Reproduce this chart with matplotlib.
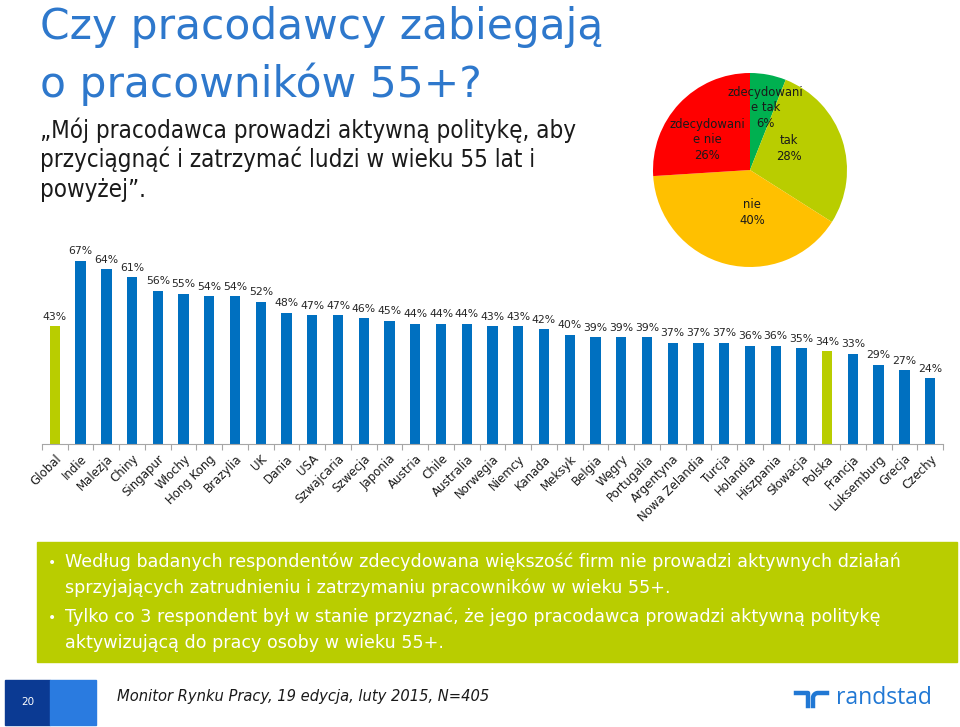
import matplotlib
matplotlib.use("Agg")
import matplotlib.pyplot as plt
from matplotlib.patches import Rectangle
import numpy as np

# data
countries = ["Global", "Indie", "Malezja", "Chiny", "Singapur", "Włochy", "Hong Kong",
             "Brazylia", "UK", "Dania", "USA", "Szwajcaria", "Szwecja", "Japonia",
             "Austria", "Chile", "Australia", "Norwegia", "Niemcy", "Kanada", "Meksyk",
             "Belgia", "Węgry", "Portugalia", "Argentyna", "Nowa Zelandia", "Turcja",
             "Holandia", "Hiszpania", "Słowacja", "Polska", "Francja", "Luksemburg",
             "Grecja", "Czechy"]
values = [43, 67, 64, 61, 56, 55, 54, 54, 52, 48, 47, 47, 46, 45, 44, 44, 44, 43, 43,
          42, 40, 39, 39, 39, 37, 37, 37, 36, 36, 35, 34, 33, 29, 27, 24]
highlight = ["Global", "Polska"]

pie_labels = ["zdecydowani\ne tak", "tak", "nie", "zdecydowani\ne nie"]
pie_values = [6, 28, 40, 26]

W, H = 960, 727
fig = plt.figure(figsize=(9.6, 7.27), dpi=100)
fig.patch.set_facecolor("white")

BLUE = "#0070C0"
LIME = "#B9CD00"


def fx(px):
    return px / W


def fy(py):
    return 1 - py / H


# title + subtitle
fig.text(fx(40), fy(39), "Czy pracodawcy zabiegają", fontsize=30.5, color="#2E78CC",
         family=["DejaVu Sans"], va="baseline")
fig.text(fx(40), fy(97), "o pracowników 55+?", fontsize=30.5, color="#2E78CC",
         family=["DejaVu Sans"], va="baseline")
sub = ["„Mój pracodawca prowadzi aktywną politykę, aby",
       "przyciągnąć i zatrzymać ludzi w wieku 55 lat i",
       "powyżej”."]
for i, line in enumerate(sub):
    fig.text(fx(40), fy(138 + 29.5 * i), line, fontsize=17.3, color="#1a1a1a",
             family=["DejaVu Sans"], fontstretch="condensed", va="baseline")

# bar chart
ax = fig.add_axes([fx(42), fy(444), fx(943) - fx(42), 197 / H])
x = np.arange(len(countries))
colors = [LIME if c in highlight else BLUE for c in countries]
ax.bar(x, values, width=0.4, color=colors)
for xi, v in zip(x, values):
    ax.text(xi, v + 1.6, f"{v}%", ha="center", va="bottom", fontsize=7.8,
            color="#262626", clip_on=False)
ax.set_xlim(-0.5, len(countries) - 0.5)
ax.set_ylim(0, 72)
ax.set_yticks([])
for s in ["top", "right", "left"]:
    ax.spines[s].set_visible(False)
ax.spines["bottom"].set_color("#A6A6A6")
ax.set_xticks(np.arange(-0.5, len(countries)), minor=False)
ax.set_xticklabels([])
ax.tick_params(axis="x", which="major", length=4, color="#A6A6A6")
ax.set_xticks(x, minor=True)
ax.set_xticklabels(countries, minor=True, rotation=45, ha="right",
                   rotation_mode="anchor", fontsize=8.5, color="#1a1a1a")
ax.tick_params(axis="x", which="minor", length=0, pad=6)

# pie
pax = fig.add_axes([fx(653), fy(267), 194 / W, 194 / H])
pie_colors = ["#00B050", LIME, "#FFC000", "#FF0000"]
pax.pie(pie_values, colors=pie_colors, startangle=90, counterclock=False, radius=1)
pax.set_xlim(-1, 1)
pax.set_ylim(-1, 1)
pax.set_aspect("auto")
label_pos = [(0.16, 0.64), (0.40, 0.22), (0.02, -0.44), (-0.44, 0.31)]
for (lx, ly), lab, v in zip(label_pos, pie_labels, pie_values):
    pax.text(lx, ly, f"{lab}\n{v}%", ha="center", va="center", fontsize=8.4,
             color="#1a1a1a", linespacing=1.25)

# green box with conclusions
fig.patches.append(Rectangle((fx(37), fy(662)), fx(957) - fx(37), (662 - 542) / H,
                             transform=fig.transFigure, color=LIME, zorder=0))
box_lines = [
    (567, True, "Według badanych respondentów zdecydowana większość firm nie prowadzi aktywnych działań"),
    (593, False, "sprzyjających zatrudnieniu i zatrzymaniu pracowników w wieku 55+."),
    (622, True, "Tylko co 3 respondent był w stanie przyznać, że jego pracodawca prowadzi aktywną politykę"),
    (648, False, "aktywizującą do pracy osoby w wieku 55+."),
]
for py, bullet, txt in box_lines:
    if bullet:
        fig.text(fx(48), fy(py), "•", fontsize=10, color="white", va="baseline")
    fig.text(fx(65), fy(py), txt, fontsize=12.6, color="white", va="baseline",
             family=["DejaVu Sans"])

# footer
fig.patches.append(Rectangle((fx(5), fy(725)), fx(50) - fx(5), 45 / H,
                             transform=fig.transFigure, color="#0B3A93"))
fig.patches.append(Rectangle((fx(50), fy(725)), fx(96) - fx(50), 45 / H,
                             transform=fig.transFigure, color="#2A7BE0"))
fig.text(fx(28), fy(702), "20", fontsize=7.5, color="white", ha="center", va="center")
fig.text(fx(117), fy(697), "Monitor Rynku Pracy, 19 edycja, luty 2015, N=405",
         fontsize=11.8, style="italic", family=["DejaVu Sans"], fontstretch="condensed",
         color="#1a1a1a", va="center")

# randstad logo
logo_blue = "#2178D4"
fig.add_artist(plt.Line2D([fx(796), fx(808), fx(808)], [fy(693), fy(693), fy(706)],
                          transform=fig.transFigure, color=logo_blue, lw=3.2,
                          solid_joinstyle="round"))
t = np.linspace(np.pi, np.pi / 2, 20)
arc_x = [fx(813)] + list(fx(818 + 5 * np.cos(t))) + [fx(827)]
arc_y = [fy(706)] + list(fy(698 - 5 * np.sin(t))) + [fy(693)]
fig.add_artist(plt.Line2D(arc_x, arc_y, transform=fig.transFigure, color=logo_blue,
                          lw=3.2))
fig.text(fx(836), fy(698), "randstad", fontsize=16.5, color=logo_blue, va="center",
         family=["Open Sans", "DejaVu Sans"])

fig.savefig("out.png", dpi=100)
